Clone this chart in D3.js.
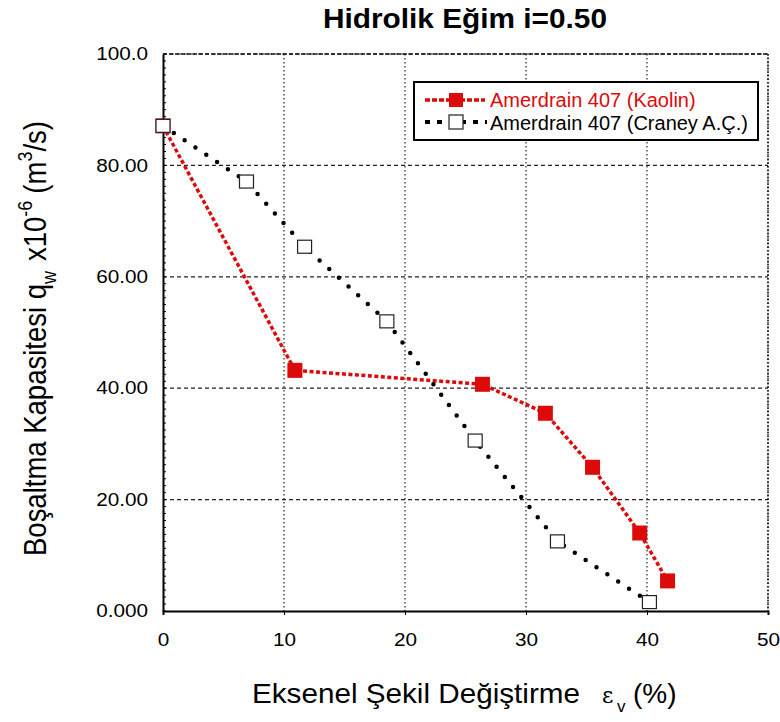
<!DOCTYPE html>
<html>
<head>
<meta charset="utf-8">
<script src="https://cdn.jsdelivr.net/npm/d3@7"></script>
<style>
  html, body { margin: 0; padding: 0; background: #fff; }
  svg { display: block; font-family: "Liberation Sans", Arial, sans-serif; }
</style>
</head>
<body>
<svg id="chart" width="780" height="722"></svg>
<script>
// Strain (%) vs. discharge capacity (x10^-6 m^3/s) at hydraulic gradient i = 0.50
const kaolinStrain = [0, 10.9, 26.4, 31.6, 35.5, 39.4, 41.7];
const kaolinFlow   = [87.1, 43.2, 40.7, 35.5, 25.8, 14.0, 5.4];
const craneyStrain = [0, 6.9, 11.7, 18.5, 25.8, 32.6, 40.2];
const craneyFlow   = [87.1, 77.1, 65.4, 52.0, 30.6, 12.5, 1.6];
const xTicks = [0, 10, 20, 30, 40, 50];
const yTicks = [0, 20, 40, 60, 80, 100];
const yTickLabels = ["0.000", "20.00", "40.00", "60.00", "80.00", "100.0"];
const seriesNames = ["Amerdrain 407 (Kaolin)", "Amerdrain 407 (Craney A.Ç.)"];

const svg = d3.select("#chart");
const plotL = 163, plotR = 768, plotT = 54, plotB = 611;
const x = d3.scaleLinear().domain([0, 50]).range([plotL, plotR]);
const y = d3.scaleLinear().domain([0, 100]).range([plotB, plotT]);
const red = "#dd0a0a";

// widen plain text horizontally by factor k
function widen(sel, k) {
  sel.each(function () {
    const w = this.getComputedTextLength();
    d3.select(this).attr("textLength", w * k).attr("lengthAdjust", "spacingAndGlyphs");
  });
}

// grid
const grid = svg.append("g");
grid.selectAll("line.v").data(xTicks.slice(1)).join("line")
  .attr("x1", d => x(d)).attr("x2", d => x(d)).attr("y1", plotT).attr("y2", plotB)
  .attr("stroke", "#222").attr("stroke-width", 1.2).attr("stroke-dasharray", "1.5,2.5");
grid.selectAll("line.h").data(yTicks.slice(1)).join("line")
  .attr("x1", plotL).attr("x2", plotR).attr("y1", d => y(d)).attr("y2", d => y(d))
  .attr("stroke", "#222").attr("stroke-width", 1.2).attr("stroke-dasharray", "4,3");

// left minor ticks
const minor = d3.range(0, 100.01, 1.25);
svg.append("g").selectAll("line").data(minor).join("line")
  .attr("x1", plotL).attr("x2", plotL + 3).attr("y1", d => y(d)).attr("y2", d => y(d))
  .attr("stroke", "#000").attr("stroke-width", 1);

// axes
const xAxis = d3.axisBottom(x).tickValues(xTicks).tickSize(4).tickFormat(d3.format("d"));
const gx = svg.append("g").attr("transform", `translate(0,${plotB})`).call(xAxis);
gx.select(".domain").attr("stroke-width", 2);
gx.selectAll("text").attr("font-size", 18).attr("y", 35).attr("dy", null).attr("fill", "#000");
widen(gx.selectAll("text"), 1.15);
const yAxis = d3.axisLeft(y).tickValues(yTicks).tickSize(0).tickPadding(15)
  .tickFormat((d, i) => yTickLabels[i]);
const gy = svg.append("g").attr("transform", `translate(${plotL},0)`).call(yAxis);
gy.select(".domain").attr("stroke-width", 2);
gy.selectAll("text").attr("font-size", 18).attr("fill", "#000");
widen(gy.selectAll("text"), 1.15);
svg.selectAll(".domain").attr("stroke", "#000");
svg.selectAll(".tick line").attr("stroke", "#000");

// top and right frame
svg.append("line").attr("x1", plotL).attr("x2", plotR).attr("y1", plotT).attr("y2", plotT)
  .attr("stroke", "#111").attr("stroke-width", 1.6).attr("stroke-dasharray", "4,2");
svg.append("line").attr("x1", plotR).attr("x2", plotR).attr("y1", plotT).attr("y2", plotB)
  .attr("stroke", "#111").attr("stroke-width", 1.6).attr("stroke-dasharray", "1.5,2");

// series lines
const kaolin = kaolinStrain.map((s, i) => [s, kaolinFlow[i]]);
const craney = craneyStrain.map((s, i) => [s, craneyFlow[i]]);
const line = d3.line().x(d => x(d[0])).y(d => y(d[1]));
svg.append("path").attr("d", line(kaolin)).attr("fill", "none")
  .attr("stroke", red).attr("stroke-width", 3.5).attr("stroke-dasharray", "4,2.5");
svg.append("path").attr("d", line(craney)).attr("fill", "none")
  .attr("stroke", "#000").attr("stroke-width", 4.5).attr("stroke-linecap", "round")
  .attr("stroke-dasharray", "0,13");

// markers
svg.append("g").selectAll("rect").data(kaolin).join("rect")
  .attr("x", d => x(d[0]) - 7.5).attr("y", d => y(d[1]) - 7.5)
  .attr("width", 15).attr("height", 15).attr("fill", red);
svg.append("g").selectAll("rect").data(craney).join("rect")
  .attr("x", d => x(d[0]) - 7).attr("y", d => y(d[1]) - 6.5)
  .attr("width", 14).attr("height", 13).attr("fill", "#fff")
  .attr("stroke", "#222").attr("stroke-width", 1.2);

// legend
const lg = svg.append("g");
lg.append("rect").attr("x", 414).attr("y", 82).attr("width", 344).attr("height", 58)
  .attr("fill", "#fff").attr("stroke", "#000").attr("stroke-width", 2);
lg.append("line").attr("x1", 425).attr("x2", 485).attr("y1", 100).attr("y2", 100)
  .attr("stroke", red).attr("stroke-width", 3.5).attr("stroke-dasharray", "5,2");
lg.append("rect").attr("x", 449).attr("y", 93).attr("width", 14).attr("height", 14).attr("fill", red);
lg.append("text").attr("x", 490).attr("y", 107).attr("font-size", 20).attr("fill", red)
  .text(seriesNames[0]);
lg.append("line").attr("x1", 425).attr("x2", 487).attr("y1", 122).attr("y2", 122)
  .attr("stroke", "#000").attr("stroke-width", 4).attr("stroke-dasharray", "5,7");
lg.append("rect").attr("x", 449).attr("y", 115).attr("width", 14).attr("height", 14)
  .attr("fill", "#fff").attr("stroke", "#222").attr("stroke-width", 1.2);
lg.append("text").attr("x", 490).attr("y", 130).attr("font-size", 20).attr("fill", "#000")
  .text(seriesNames[1]);

// title
svg.append("text").attr("x", 465).attr("y", 28).attr("text-anchor", "middle")
  .attr("font-size", 28).attr("font-weight", "bold")
  .attr("textLength", 284).attr("lengthAdjust", "spacingAndGlyphs")
  .text("Hidrolik Eğim i=0.50");

// x-axis title
svg.append("text").attr("x", 252).attr("y", 703).attr("font-size", 28)
  .attr("textLength", 328).attr("lengthAdjust", "spacingAndGlyphs")
  .text("Eksenel Şekil Değiştirme");
svg.append("text").attr("x", 602).attr("y", 703).attr("font-size", 22)
  .attr("font-family", "DejaVu Serif, serif").text("ε");
svg.append("text").attr("x", 617).attr("y", 712).attr("font-size", 17).text("v");
svg.append("text").attr("x", 633).attr("y", 703).attr("font-size", 28).text("(%)");

// y-axis title
const yt = svg.append("text").attr("transform", "translate(46,556) scale(1.15,1) rotate(-90)")
  .attr("font-size", 27.5).attr("fill", "#000");
yt.append("tspan").text("Boşaltma Kapasitesi q");
yt.append("tspan").attr("font-size", 18).attr("dy", 9).text("w");
yt.append("tspan").attr("dy", -9).attr("dx", 10).text("x10");
yt.append("tspan").attr("font-size", 18).attr("dy", -12).text("-6");
yt.append("tspan").attr("dy", 12).attr("dx", 7).text("(m");
yt.append("tspan").attr("font-size", 18).attr("dy", -12).text("3");
yt.append("tspan").attr("dy", 12).text("/s)");
</script>
</body>
</html>
